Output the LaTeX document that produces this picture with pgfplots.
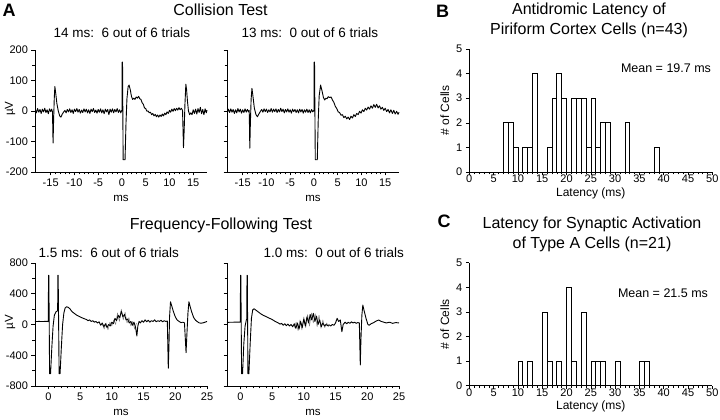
\documentclass[border=0pt]{standalone}
\usepackage{fontspec}
\setmainfont{Liberation Sans}
\usepackage{pgfplots}
\pgfplotsset{compat=1.18}

\pgfplotsset{
  base/.style={
    scale only axis,
    axis lines*=left,
    axis line style={-, line width=0.6pt},
    tick align=outside,
    major tick length=3.5pt, minor tick length=2.5pt,
    tick style={black, line width=0.5pt},
    minor tick style={black, line width=0.4pt},
    /pgf/number format/assume math mode=true,
    clip=false,
  },
  trace/.style={
    base, width=172pt,
    ticklabel style={font=\fontsize{11}{12}\selectfont},
    label style={font=\fontsize{11.5}{13}\selectfont},
    xlabel={ms},
    xlabel style={at={(axis description cs:0.5,0)}, anchor=center, yshift=-26pt},
    ylabel style={at={(axis description cs:-0.145,0.52)}, anchor=center},
  },
  top trace/.style={
    trace, height=122pt,
    xmin=-18.3, xmax=17.9, ymin=-200, ymax=200,
    xtick={-15,-10,-5,0,5,10,15}, xticklabels={-15,-10,-5,0,5,10,15},
    minor x tick num=4,
    ytick={-200,-100,0,100,200}, minor y tick num=1,
  },
  bottom trace/.style={
    trace, height=123pt,
    xmin=-2.1, xmax=25, ymin=-800, ymax=800,
    xtick={0,5,...,25}, minor x tick num=4,
    ytick={-800,-400,0,400,800}, minor y tick num=1,
  },
  hist/.style={
    base, width=243pt, height=123pt,
    xmin=0, xmax=50, ymin=0, ymax=5,
    xtick={0,5,...,50}, minor x tick num=4, ytick={0,...,5},
    ticklabel style={font=\fontsize{11}{12}\selectfont},
    xticklabel style={yshift=4pt},
    label style={font=\fontsize{12}{14}\selectfont},
    xlabel={Latency (ms)}, ylabel={\# of Cells},
    xlabel style={at={(axis description cs:0.5,0)}, anchor=center, yshift=-21pt},
  },
  sig/.style={black, line width=0.9pt, line join=round, mark=none},
  trial/.style={gray, line width=0.5pt, line join=round, mark=none},
  bin/.style={ybar interval, draw=black, fill=white, line width=0.6pt},
}

\begin{document}
\begin{tikzpicture}[x=1pt,y=1pt]
\path[use as bounding box] (0,0) rectangle (720,420);

% ---- A: collision test ----
\begin{axis}[top trace, at={(35pt,248pt)}, anchor=south west,
  yticklabels={-200,-100,0,100,200}, ylabel={µV}]
\addplot[sig] coordinates {
(-18.2,3)(-18.0,-6)(-17.75,8)(-17.5,-4)(-17.25,5)(-17.0,-8)(-16.75,6)(-16.5,-3)(-16.25,9)(-16.0,-5)(-15.75,4)(-15.5,-9)(-15.25,7)(-15.0,-2)(-14.8,6)(-14.62,-3)
(-14.5,-105)(-14.38,-30)(-14.25,40)(-14.12,80)(-13.95,60)(-13.7,25)(-13.4,0)(-13.1,-16)(-12.85,-20)(-12.55,-10)(-12.25,-3)
(-12.0,2)(-11.75,-6)(-11.5,5)(-11.25,-3)(-11.0,7)(-10.75,-5)(-10.5,4)(-10.25,-8)(-10.0,6)(-9.75,-2)(-9.5,8)(-9.25,-4)(-9.0,5)(-8.75,-7)(-8.5,3)(-8.25,-5)(-8.0,7)(-7.75,-3)(-7.5,6)(-7.25,-6)(-7.0,4)(-6.75,-8)(-6.5,6)(-6.25,-2)(-6.0,8)(-5.75,-5)(-5.5,3)(-5.25,-7)(-5.0,5)(-4.75,-4)(-4.5,7)(-4.25,-6)(-4.0,4)(-3.75,-9)(-3.5,6)(-3.25,-3)(-3.0,5)(-2.75,-12)(-2.5,6)(-2.25,-4)(-2.0,7)(-1.75,-6)(-1.5,5)(-1.25,-3)(-1.0,8)(-0.75,-5)(-0.5,4)(-0.25,-6)(-0.05,2)
(0.0,0)(0.05,160)(0.12,160)(0.25,-160)(0.65,-160)(0.85,-40)(1.05,40)(1.3,80)(1.5,85)(1.75,70)(2.0,48)(2.25,38)(2.5,42)(2.75,38)(3.0,46)(3.25,42)(3.5,48)(3.75,40)(4.0,38)(4.25,27)(4.5,22)(4.75,10)(5.0,8)(5.25,-1)(5.5,0)(5.75,-6)(6.0,-4)(6.25,-12)(6.5,-8)(6.75,-16)(7.0,-11)(7.25,-19)(7.5,-13)(7.75,-20)(8.0,-13)(8.25,-18)(8.5,-10)(8.75,-16)(9.0,-7)(9.25,-12)(9.5,-3)(9.75,-8)(10.0,2)(10.25,-4)(10.5,6)(10.75,-1)(11.0,8)(11.25,1)(11.5,9)(11.75,3)(12.0,11)(12.25,4)(12.5,9)(12.75,2)
(12.95,-120)(13.1,-60)(13.25,20)(13.45,88)(13.6,70)(13.8,30)(14.0,0)(14.25,-12)(14.5,-6)(14.75,-12)(15.0,4)(15.25,-8)(15.5,6)(15.75,-10)(16.0,8)(16.25,-5)(16.5,12)(16.75,-9)(17.0,5)(17.25,-12)(17.5,7)(17.75,-6)(17.9,3)
};
\end{axis}

\begin{axis}[top trace, at={(227pt,248pt)}, anchor=south west, yticklabels={}]
\addplot[sig] coordinates {
(-18.2,-3)(-18.0,6)(-17.75,-5)(-17.5,7)(-17.25,-4)(-17.0,5)(-16.75,-8)(-16.5,4)(-16.25,-6)(-16.0,8)(-15.75,-3)(-15.5,6)(-15.25,-7)(-15.0,4)(-14.75,-5)(-14.5,7)(-14.25,-4)(-14.0,5)(-13.75,-3)(-13.62,2)
(-13.5,-122)(-13.38,-40)(-13.22,40)(-13.05,74)(-12.85,50)(-12.55,10)(-12.2,-12)(-11.9,-19)(-11.6,-10)(-11.3,-2)
(-11.0,5)(-10.75,-4)(-10.5,7)(-10.25,-2)(-10.0,6)(-9.75,-5)(-9.5,4)(-9.25,-3)(-9.0,8)(-8.75,-4)(-8.5,6)(-8.25,-2)(-8.0,7)(-7.75,-5)(-7.5,5)(-7.25,-3)(-7.0,9)(-6.75,-2)(-6.5,6)(-6.25,-6)(-6.0,5)(-5.75,-3)(-5.5,7)(-5.25,-4)(-5.0,4)(-4.75,-7)(-4.5,6)(-4.25,-2)(-4.0,5)(-3.75,-5)(-3.5,4)(-3.25,-6)(-3.0,6)(-2.75,-3)(-2.5,5)(-2.25,-7)(-2.0,4)(-1.75,-4)(-1.5,6)(-1.25,-5)(-1.0,4)(-0.75,-6)(-0.5,5)(-0.25,-3)(-0.05,2)
(0.0,0)(0.05,160)(0.12,160)(0.28,-160)(0.7,-160)(0.9,-30)(1.1,50)(1.4,85)(1.7,66)(2.0,44)(2.25,36)(2.5,42)(2.75,40)(3.0,47)(3.3,44)(3.6,46)(3.9,36)(4.2,28)(4.5,15)(4.8,8)(5.1,-3)(5.4,-5)(5.7,-14)(6.0,-12)(6.3,-22)(6.6,-17)(6.9,-26)(7.2,-20)(7.5,-28)(7.8,-17)(8.1,-23)(8.4,-12)(8.7,-18)(9.0,-8)(9.3,-12)(9.6,-1)(9.9,-7)(10.2,4)(10.5,-2)(10.8,9)(11.1,3)(11.4,13)(11.7,6)(12.0,17)(12.3,9)(12.6,21)(12.9,12)(13.2,22)(13.5,10)(13.8,17)(14.1,6)(14.4,12)(14.7,2)(15.0,9)(15.3,-2)(15.6,5)(15.9,-6)(16.2,4)(16.5,-8)(16.8,2)(17.1,-10)(17.4,-1)(17.7,-11)(17.9,-4)
};
\end{axis}

% ---- A: frequency-following test ----
\begin{axis}[bottom trace, at={(35pt,34pt)}, anchor=south west,
  yticklabels={-800,-400,0,400,800}, ylabel={µV}]
\addplot[trial] coordinates {
(8.5,10)(8.8,-60)(9.1,20)(9.4,-70)(9.7,30)(10.0,-20)(10.3,60)(10.6,0)(10.9,150)(11.2,40)(11.5,200)(11.8,60)(12.1,160)(12.4,20)(12.7,90)(13.0,-20)(13.3,40)(13.6,-60)(13.9,20)
};
\addplot[sig] coordinates {
(-2.1,38)(-1.5,40)(-1.0,39)(-0.5,40)(-0.05,40)
(0.0,40)(0.03,640)(0.08,640)(0.2,-640)(0.35,-640)(0.55,-300)(0.75,-20)(0.95,120)(1.2,165)(1.4,175)(1.47,180)
(1.5,640)(1.55,640)(1.7,-640)(1.85,-640)(2.05,-300)(2.25,0)(2.45,150)(2.65,215)(2.85,230)(3.1,225)(3.4,205)(3.7,170)(4.0,150)(4.5,120)(5.0,100)(5.5,80)(6.0,65)(6.25,50)(6.5,60)(6.75,40)(7.0,50)(7.25,30)(7.5,40)(7.75,20)(8.0,35)(8.25,-10)(8.5,20)(8.75,-30)(9.0,10)(9.25,-40)(9.5,0)(9.75,-20)(10.0,30)(10.25,10)(10.5,80)(10.75,50)(11.0,120)(11.25,90)(11.5,170)(11.75,100)(12.0,130)(12.25,60)(12.5,70)(12.75,20)(13.0,40)(13.25,-10)(13.5,30)(13.75,-40)(13.95,-150)(14.1,-20)(14.3,40)(14.5,20)(14.75,50)(15.0,30)(15.25,60)(15.5,35)(15.75,55)(16.0,30)(16.25,50)(16.5,40)(16.75,60)(17.0,35)(17.25,50)(17.5,40)(17.75,55)(18.0,35)(18.25,50)(18.5,40)(18.75,45)
(18.9,-570)(19.0,-300)(19.1,100)(19.25,296)(19.45,240)(19.7,170)(20.0,100)(20.3,58)(20.6,40)(20.9,24)(21.2,30)(21.45,20)
(21.7,-366)(21.85,-100)(22.0,150)(22.15,296)(22.35,230)(22.6,160)(22.9,90)(23.2,55)(23.5,35)(23.8,20)(24.1,17)(24.4,22)(24.7,30)(25.0,40)
};
\end{axis}

\begin{axis}[bottom trace, at={(227pt,34pt)}, anchor=south west, yticklabels={}]
\addplot[trial] coordinates {
(8.5,-40)(8.8,30)(9.1,-80)(9.4,60)(9.7,-70)(10.0,100)(10.3,-40)(10.6,130)(10.9,-20)(11.2,150)(11.5,20)(11.8,140)(12.1,-30)(12.4,120)(12.7,-50)(13.0,60)(13.3,-40)(13.6,20)(13.9,-30)
};
\addplot[sig] coordinates {
(-2.1,28)(-1.0,30)(-0.05,30)
(0.0,30)(0.03,640)(0.08,640)(0.2,-640)(0.35,-640)(0.55,-250)(0.75,-20)(0.95,60)(1.02,70)
(1.05,640)(1.1,640)(1.2,-640)(1.35,-640)(1.55,-250)(1.75,80)(1.95,190)(2.15,205)(2.4,190)(2.8,165)(3.2,140)(3.6,120)(4.0,105)(4.5,85)(5.0,65)(5.5,40)(6.0,20)(6.25,5)(6.5,15)(6.75,-10)(7.0,10)(7.25,-15)(7.5,5)(7.75,-20)(8.0,0)(8.25,-30)(8.5,10)(8.75,-50)(9.0,20)(9.25,-60)(9.5,40)(9.75,-40)(10.0,70)(10.25,-20)(10.5,100)(10.75,20)(11.0,130)(11.25,60)(11.5,145)(11.75,40)(12.0,110)(12.25,0)(12.5,60)(12.75,-30)(13.0,20)(13.25,-20)(13.5,0)(13.75,-15)(14.0,-5)(14.25,-20)(14.5,0)(14.75,-10)(15.0,20)(15.25,80)(15.5,40)(15.75,60)(16.0,-94)(16.2,0)(16.5,30)(16.75,10)(17.0,30)(17.25,15)(17.5,35)(17.75,20)(18.0,30)(18.25,15)(18.5,25)(18.75,20)
(18.9,-527)(19.0,-200)(19.15,120)(19.3,253)(19.5,180)(19.8,80)(20.1,0)(20.3,-10)(20.6,10)(21.0,24)(21.4,45)(21.8,58)(22.2,40)(22.6,30)(23.0,20)(23.5,30)(24.0,15)(24.5,25)(25.0,20)
};
\end{axis}

% ---- B: antidromic latency histogram ----
\begin{axis}[hist, at={(469.3pt,248pt)}, anchor=south west]
\addplot[bin] coordinates {
(7,2)(8,2)(9,1)(10,0)(11,1)(12,1)(13,4)(14,0)(15,0)(16,1)(17,3)(18,4)(19,3)(20,0)(21,3)(22,3)(23,3)(24,1)(25,3)(26,1)(27,2)(28,2)(29,0)(30,0)(31,0)(32,2)(33,0)(34,0)(35,0)(36,0)(37,0)(38,1)(39,0)
};
\end{axis}

% ---- C: synaptic activation latency histogram ----
\begin{axis}[hist, at={(469.3pt,34.3pt)}, anchor=south west]
\addplot[bin] coordinates {
(10,1)(11,0)(12,1)(13,0)(14,0)(15,3)(16,1)(17,0)(18,1)(19,0)(20,4)(21,1)(22,0)(23,3)(24,0)(25,1)(26,1)(27,1)(28,0)(29,0)(30,1)(31,0)(32,0)(33,0)(34,0)(35,1)(36,1)(37,0)
};
\end{axis}

% ---- titles and panel letters ----
\node[font=\bfseries\fontsize{18}{20}\selectfont] at (9,410) {A};
\node[font=\bfseries\fontsize{18}{20}\selectfont] at (442.5,408.5) {B};
\node[font=\bfseries\fontsize{18}{20}\selectfont] at (444,199) {C};
\node[font=\fontsize{16}{19}\selectfont] at (220.5,410) {Collision Test};
\node[font=\fontsize{16}{19}\selectfont] at (221,195) {Frequency-Following Test};
\node[font=\fontsize{13.5}{16}\selectfont, anchor=west] at (50,387) {14 ms:\ \ 6 out of 6 trials};
\node[font=\fontsize{13.5}{16}\selectfont, anchor=west] at (238,387) {13 ms:\ \ 0 out of 6 trials};
\node[font=\fontsize{13.5}{16}\selectfont, anchor=west] at (35,167) {1.5 ms:\ \ 6 out of 6 trials};
\node[font=\fontsize{13.5}{16}\selectfont, anchor=west] at (260,167) {1.0 ms:\ \ 0 out of 6 trials};
\node[font=\fontsize{16}{20}\selectfont, align=center] at (589,400) {Antidromic Latency of\\Piriform Cortex Cells (n=43)};
\node[font=\fontsize{16}{20}\selectfont, align=center] at (592,186) {Latency for Synaptic Activation\\of Type A Cells (n=21)};
\node[font=\fontsize{12.5}{15}\selectfont] at (666,352) {Mean = 19.7 ms};
\node[font=\fontsize{12.5}{15}\selectfont] at (663,127) {Mean = 21.5 ms};
\end{tikzpicture}
\end{document}
